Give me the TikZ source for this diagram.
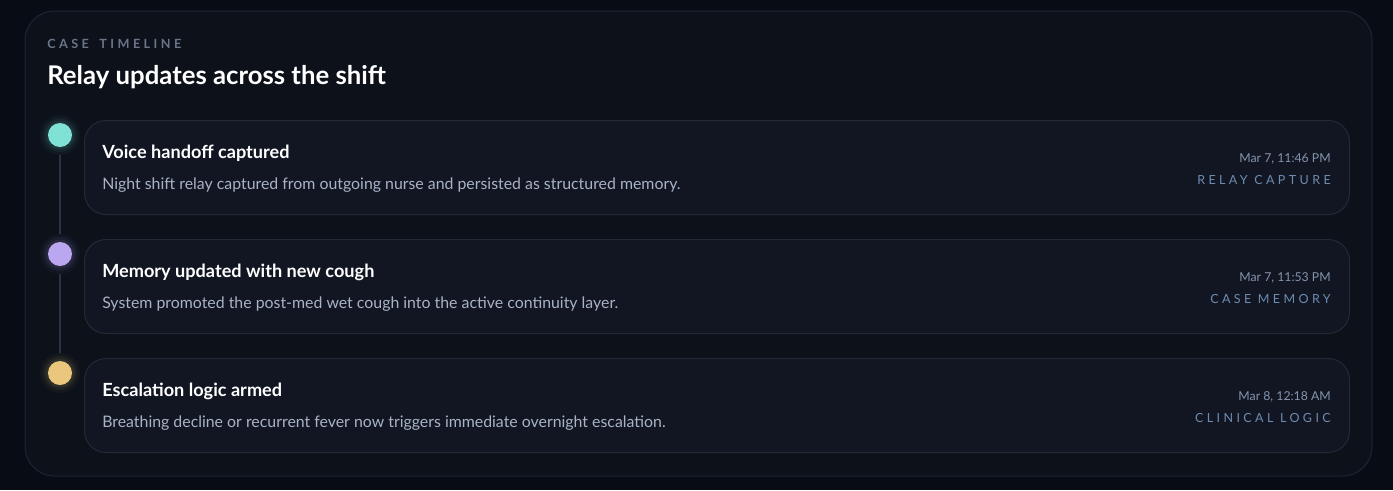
\documentclass[tikz,border=0pt]{standalone}
\usepackage{fontspec}
\setmainfont{Lato}
\newfontfamily\wideface[LetterSpace=27]{Lato}
\newfontfamily\widerface[LetterSpace=27]{Lato}
\definecolor{pagebg}{HTML}{080C14}
\definecolor{panelbg}{HTML}{0C111A}
\definecolor{panelline}{HTML}{1E2531}
\definecolor{cardbg}{HTML}{111622}
\definecolor{cardline}{HTML}{232A37}
\definecolor{railline}{HTML}{2A3343}
\definecolor{dotteal}{HTML}{80E2D5}
\definecolor{dotlilac}{HTML}{BAA7F0}
\definecolor{dotgold}{HTML}{EAC77D}
\definecolor{kickertext}{HTML}{6A7589}
\definecolor{bodytext}{HTML}{A9B3C6}
\definecolor{datetext}{HTML}{8594AD}
\definecolor{tagtext}{HTML}{6E8BB0}
\begin{document}
\begin{tikzpicture}[x=0.75pt,y=-0.75pt]
            \tikzset{Card/.style={draw=cardline,fill=cardbg,line width=0.75pt,rounded corners=16pt,minimum width=948.75pt,minimum height=70.5pt,anchor=north west,inner sep=0pt},
                     Dot/.style={circle,minimum size=18pt,inner sep=0pt},
                     Head/.style={anchor=base west,inner sep=0pt,text=white,font=\bfseries\fontsize{13.6}{16}\selectfont},
                     Body/.style={anchor=base west,inner sep=0pt,text=bodytext,font=\fontsize{11.9}{14}\selectfont},
                     Stamp/.style={anchor=base east,inner sep=0pt,text=datetext,font=\fontsize{9.2}{11}\selectfont},
                     Tag/.style={anchor=base east,inner sep=0pt,text=tagtext,font=\wideface\fontsize{9.4}{11}\selectfont}}
            % background and panel
            \fill[pagebg] (0,0) rectangle (1393,490);
            \draw[panelline,fill=panelbg,line width=0.75pt,rounded corners=22pt] (25,11) rectangle (1372,476);
            \node[anchor=base west,inner sep=0pt,text=kickertext,font=\widerface\bfseries\fontsize{9.5}{11}\selectfont] (kicker) at (47,48) {CASE \hspace{3pt}TIMELINE};
            \node[anchor=base west,inner sep=0pt,text=white,font=\bfseries\fontsize{19.3}{23}\selectfont] (title) at (47,84) {Relay updates across the shift};
            % glow round the dots
            \foreach \y/\c in {135/dotteal,254/dotlilac,373/dotgold}
                \foreach \r/\o in {20/0.04,17/0.06,14.5/0.08}
                    \fill[\c,opacity=\o] (60,\y) circle (\r);
            % dots
            \node[Dot,fill=dotteal] (d1) at (60,135) {};
            \node[Dot,fill=dotlilac] (d2) at (60,254) {};
            \node[Dot,fill=dotgold] (d3) at (60,373) {};
            \draw[railline,line width=1.2pt,shorten <=6pt,shorten >=6pt] (d1) -- (d2);
            \draw[railline,line width=1.2pt,shorten <=6pt,shorten >=6pt] (d2) -- (d3);
            % cards
            \node[Card] (c1) at (84,120) {};
            \node[Card] (c2) at (84,239) {};
            \node[Card] (c3) at (84,358) {};
            \node[Head] (h1) at (102,158) {Voice handoff captured};
            \node[Body] (b1) at (102,189) {Night shift relay captured from outgoing nurse and persisted as structured memory.};
            \node[Stamp] (s1) at (1331,162) {Mar 7, 11:46 PM};
            \node[Tag] (t1) at (1331,184) {RELAY CAPTURE};
            \node[Head] (h2) at (102,277) {Memory updated with new cough};
            \node[Body] (b2) at (102,308) {System promoted the post-med wet cough into the active continuity layer.};
            \node[Stamp] (s2) at (1331,281) {Mar 7, 11:53 PM};
            \node[Tag] (t2) at (1331,303) {CASE MEMORY};
            \node[Head] (h3) at (102,396) {Escalation logic armed};
            \node[Body] (b3) at (102,427) {Breathing decline or recurrent fever now triggers immediate overnight escalation.};
            \node[Stamp] (s3) at (1331,400) {Mar 8, 12:18 AM};
            \node[Tag] (t3) at (1331,422) {CLINICAL LOGIC};
        \end{tikzpicture}
\end{document}
